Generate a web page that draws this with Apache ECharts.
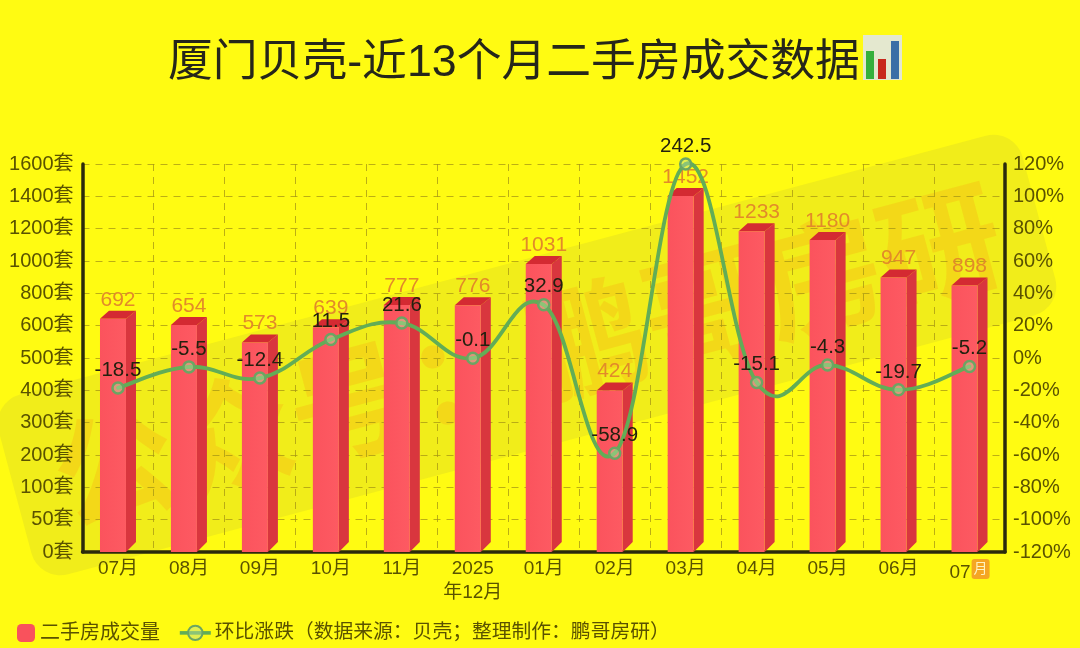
<!DOCTYPE html>
<html>
<head>
<meta charset="utf-8">
<style>html,body{margin:0;padding:0;background:#fffb12}#c{width:1080px;height:648px}</style>
<script src="https://cdn.jsdelivr.net/npm/echarts@6/dist/echarts.min.js"></script>
</head>
<body>
<div id="c"></div>
<script>
const categories = ['07月','08月','09月','10月','11月','2025\n年12月','01月','02月','03月','04月','05月','06月','07'];
const volumes = [692,654,573,639,777,776,1031,424,1452,1233,1180,947,898];
const changes = [-18.5,-5.5,-12.4,11.5,21.6,-0.1,32.9,-58.9,242.5,-15.1,-4.3,-19.7,-5.2];
const leftTicks = [0,50,100,200,300,400,500,600,800,1000,1200,1400,1600];
const titleText = '厦门贝壳-近13个月二手房成交数据';
const barName = '二手房成交量';
const lineName = '环比涨跌（数据来源：贝壳；整理制作：鹏哥房研）';
const watermarkText = '公众号：鹏哥房研';

const FONT = '"Liberation Sans","Noto Sans CJK SC",sans-serif';
const RIGHT_MAX = 120;
const TICK_COLOR = '#5a5200';
const LINE_COLOR = '#62ad56';
const GRID_COLOR = 'rgba(165,150,20,0.75)';

// left axis is evenly spaced over unevenly spaced ticks: a piecewise scale
function leftPos(v){
  for(let i=1;i<leftTicks.length;i++){
    if(v<=leftTicks[i]) return i-1+(v-leftTicks[i-1])/(leftTicks[i]-leftTicks[i-1]);
  }
  return leftTicks.length-1;
}
// the right axis stops at 120%; the 242.5 point sits on the top of the axis
const plotted = changes.map(v=>Math.min(v,RIGHT_MAX));

function renderBar(params, api){
  const i = api.value(0);
  const top = api.coord([i, leftPos(api.value(1))]);
  const base = api.coord([i, 0]);
  const L = top[0]-18, F = L+26, R = L+36;
  const backTop = top[1], frontTop = top[1]+8;
  return {type:'group',children:[
    {type:'polygon',shape:{points:[[F,frontTop],[R,backTop],[R,base[1]-10],[F,base[1]]]},style:{fill:'#d9363e'}},
    {type:'polygon',shape:{points:[[L,frontTop],[L+9,backTop],[R,backTop],[F,frontTop]]},style:{fill:'#d42a32'}},
    {type:'rect',shape:{x:L,y:frontTop,width:26,height:base[1]-frontTop},
      style:{fill:{type:'linear',x:0,y:0,x2:1,y2:0,colorStops:[{offset:0,color:'#fb535d'},{offset:1,color:'#fd5a62'}]}}},
    {type:'text',x:top[0],y:top[1]-11,style:{text:String(api.value(1)),fill:'#e28a2a',font:'21px '+FONT,align:'center',verticalAlign:'middle'}}
  ]};
}

function renderCurve(params, api){
  const i = params.dataIndex;
  if(i>=plotted.length-1) return null;
  const at = k => api.coord([Math.max(0,Math.min(plotted.length-1,k)), plotted[Math.max(0,Math.min(plotted.length-1,k))]]);
  const p0=at(i-1), p1=at(i), p2=at(i+1), p3=at(i+2);
  const t=0.2;
  return {type:'bezierCurve',
    shape:{x1:p1[0],y1:p1[1],x2:p2[0],y2:p2[1],
      cpx1:p1[0]+(p2[0]-p0[0])*t,cpy1:p1[1]+(p2[1]-p0[1])*t,
      cpx2:p2[0]-(p3[0]-p1[0])*t,cpy2:p2[1]-(p3[1]-p1[1])*t},
    style:{stroke:LINE_COLOR,lineWidth:3.8,fill:null,lineCap:'round'}};
}

const chart = echarts.init(document.getElementById('c'),null,{renderer:'canvas'});
chart.setOption({
  animation:false,
  backgroundColor:'#fffb12',
  textStyle:{fontFamily:FONT},
  title:{text:titleText,left:163,top:36,textStyle:{fontSize:44.8,fontWeight:'normal',color:'#26261a',fontFamily:FONT}},
  legend:[
    {left:12,top:618,itemWidth:18,itemHeight:18,selectedMode:false,
      data:[{name:barName,icon:'roundRect',itemStyle:{color:'#f9525c'}}],
      itemGap:0,textStyle:{fontSize:20,color:TICK_COLOR,fontFamily:FONT,padding:[0,0,0,0]}},
    {left:173,top:618,itemWidth:31,itemHeight:18,selectedMode:false,
      data:[{name:lineName}],
      lineStyle:{color:LINE_COLOR,width:3.6,opacity:1},
      textStyle:{fontSize:19.8,color:TICK_COLOR,fontFamily:FONT,padding:[0,0,0,-1]}}
  ],
  grid:{left:82.5,right:75,top:164,bottom:96},
  xAxis:{type:'category',data:categories,
    axisLine:{lineStyle:{color:'#2b2a0c',width:3.5}},
    axisTick:{show:false},
    splitLine:{show:true,lineStyle:{color:GRID_COLOR,type:[7,6],width:1}},
    axisLabel:{fontSize:19,color:TICK_COLOR,margin:5,lineHeight:24,interval:0,
      formatter:(v,i)=> i===categories.length-1 ? '{low|07}{box|月}' : v,
      rich:{low:{fontSize:19,color:TICK_COLOR,padding:[7,1,0,0]},
            box:{fontSize:14,color:'#fff3c0',backgroundColor:'#f5a623',borderRadius:3,padding:[3,2,3,2]}}}},
  yAxis:[
    {type:'value',min:0,max:leftTicks.length-1,interval:1,
      axisLine:{show:true,lineStyle:{color:'#2b2a0c',width:3.5}},axisTick:{show:false},
      splitLine:{show:true,lineStyle:{color:GRID_COLOR,type:[7,6],width:1}},
      axisLabel:{fontSize:20,color:TICK_COLOR,margin:9,padding:[5,0,0,0],formatter:v=>leftTicks[v]+'套'}},
    {type:'value',min:-120,max:RIGHT_MAX,interval:20,position:'right',
      axisLine:{show:true,lineStyle:{color:'#2b2a0c',width:3.5}},axisTick:{show:false},
      splitLine:{show:false},
      axisLabel:{fontSize:20,color:TICK_COLOR,margin:8,padding:[5,0,0,0],formatter:'{value}%'}}
  ],
  graphic:[
    {type:'group',x:527,y:355,rotation:15*Math.PI/180,z:3,silent:true,children:[
      {type:'rect',shape:{x:-530,y:-93,width:1060,height:186,r:30},style:{fill:'rgba(170,170,70,0.16)'}},
      {type:'text',x:0,y:0,style:{text:watermarkText,font:'bold 122px "Noto Sans CJK SC"',align:'center',verticalAlign:'middle',fill:'rgba(250,160,20,0.26)'}}
    ]},
    {type:'group',z:6,silent:true,children:[
      {type:'rect',shape:{x:863,y:35,width:39,height:45},style:{fill:'#e4e8cf'}},
      {type:'rect',shape:{x:866,y:51,width:8,height:28},style:{fill:'#35b03c'}},
      {type:'rect',shape:{x:878,y:59,width:8,height:20},style:{fill:'#c8281c'}},
      {type:'rect',shape:{x:891,y:41,width:8,height:38},style:{fill:'#3b6fa6'}}
    ]}
  ],
  series:[
    {name:barName,type:'custom',z:2,renderItem:renderBar,clip:false,
      itemStyle:{color:'#f9525c'},
      encode:{x:0,y:1},data:volumes.map((v,i)=>[i,v])},
    {name:'环比曲线',type:'custom',z:4,yAxisIndex:1,renderItem:renderCurve,clip:false,
      encode:{x:0,y:1},data:plotted.map((v,i)=>[i,v])},
    {name:lineName,type:'line',z:5,yAxisIndex:1,data:plotted,
      showSymbol:true,symbol:'circle',symbolSize:11,clip:false,
      lineStyle:{opacity:0,width:0,color:LINE_COLOR},
      itemStyle:{color:'rgba(190,225,160,0.45)',borderColor:'#6ba563',borderWidth:2.5},
      label:{show:true,position:'top',distance:1,fontSize:20.5,color:'#24210f',fontFamily:FONT,
        formatter:p=>String(changes[p.dataIndex])}}
  ]
});
</script>
</body>
</html>
